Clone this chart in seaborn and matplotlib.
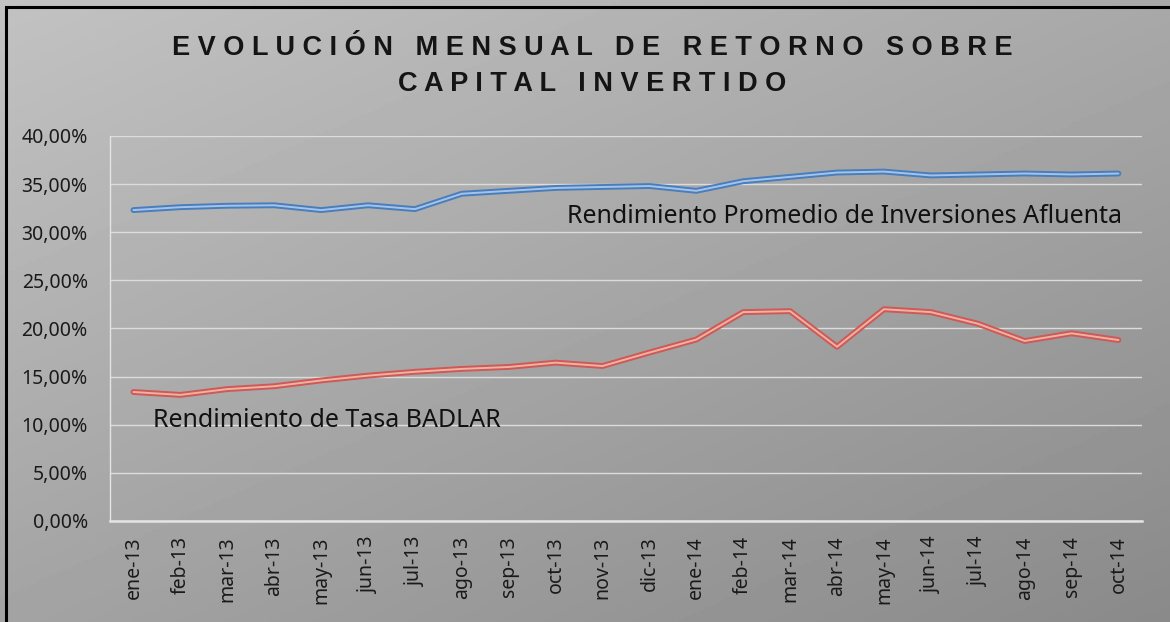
import numpy as np
import pandas as pd
import seaborn as sns
from matplotlib import pyplot as plt
from matplotlib.patches import Rectangle
from matplotlib.ticker import FuncFormatter

# Datos
meses = ['ene-13', 'feb-13', 'mar-13', 'abr-13', 'may-13', 'jun-13', 'jul-13',
         'ago-13', 'sep-13', 'oct-13', 'nov-13', 'dic-13', 'ene-14', 'feb-14',
         'mar-14', 'abr-14', 'may-14', 'jun-14', 'jul-14', 'ago-14', 'sep-14', 'oct-14']
afluenta = [32.3, 32.6, 32.75, 32.8, 32.3, 32.8, 32.4, 34.0, 34.3, 34.6, 34.7,
            34.8, 34.3, 35.3, 35.75, 36.2, 36.3, 35.9, 36.0, 36.1, 36.0, 36.1]
badlar = [13.4, 13.1, 13.7, 14.0, 14.6, 15.1, 15.5, 15.8, 16.0, 16.45, 16.1,
          17.5, 18.85, 21.7, 21.8, 18.1, 22.0, 21.7, 20.5, 18.7, 19.5, 18.8]

df = pd.DataFrame({'pos': range(len(meses)), 'mes': meses,
                   'afluenta': np.array(afluenta) / 100,
                   'badlar': np.array(badlar) / 100})

sns.set_theme(style='white')
plt.rcParams['font.family'] = ['Noto Sans', 'DejaVu Sans']

fig = plt.figure(figsize=(11.7, 6.22), dpi=100)

# fondo gris degradado
bg = fig.add_axes([0, 0, 1, 1], zorder=0)
yy, xx = np.mgrid[0:1:200j, 0:1:300j]
grad = 0.76 - 0.10 * xx - 0.12 * yy
bg.imshow(grad, cmap='gray', vmin=0, vmax=1, aspect='auto', extent=[0, 1, 0, 1])
bg.axis('off')

ax = fig.add_axes([0.094, 0.1624, 0.882, 0.619], zorder=1)
ax.set_facecolor('none')

# lineas dobles (borde oscuro + centro claro)
sns.lineplot(data=df, x='pos', y='afluenta', ax=ax, color='#4a7dbb', linewidth=4.2)
sns.lineplot(data=df, x='pos', y='afluenta', ax=ax, color='#a3c4ea', linewidth=1.4)
sns.lineplot(data=df, x='pos', y='badlar', ax=ax, color='#cf5858', linewidth=4.2)
sns.lineplot(data=df, x='pos', y='badlar', ax=ax, color='#eeb2a0', linewidth=1.4)

ax.set_xlim(-0.5, len(meses) - 0.5)
ax.set_ylim(0, 0.40)
ax.set_yticks(np.arange(0, 0.401, 0.05))
ax.yaxis.set_major_formatter(FuncFormatter(lambda v, p: f"{v*100:.2f}".replace('.', ',') + '%'))
ax.set_xticks(df['pos'])
ax.set_xticklabels(meses, rotation=90)
ax.set_xlabel('')
ax.set_ylabel('')
ax.grid(axis='y', color='#dcdcdc', linewidth=1.0)
ax.grid(axis='x', visible=False)
ax.set_axisbelow(True)
for s in ['top', 'right']:
    ax.spines[s].set_visible(False)
ax.spines['left'].set_color('#e4e4e4')
ax.spines['left'].set_linewidth(1.0)
ax.spines['bottom'].set_color('#e4e4e4')
ax.spines['bottom'].set_linewidth(1.8)
ax.tick_params(axis='y', length=0, pad=16, labelsize=14, labelcolor='#1a1a1a')
ax.tick_params(axis='x', length=0, pad=11, labelsize=14, labelcolor='#1a1a1a')

ax.text(0.443, 0.79, 'Rendimiento Promedio de Inversiones Afluenta', transform=ax.transAxes,
        fontsize=18, color='#111111', va='center', ha='left')
ax.text(0.042, 0.262, 'Rendimiento de Tasa BADLAR', transform=ax.transAxes,
        fontsize=18, color='#111111', va='center', ha='left')

def espaciar(t):
    return ' '.join(t)

fig.text(592 / 1170, 1 - 48 / 622, espaciar('EVOLUCIÓN MENSUAL DE RETORNO SOBRE'),
         ha='center', va='center', fontsize=19.5, fontweight='bold',
         family=['Liberation Sans', 'DejaVu Sans'], color='#141414')
fig.text(592 / 1170, 1 - 84 / 622, espaciar('CAPITAL INVERTIDO'),
         ha='center', va='center', fontsize=19.5, fontweight='bold',
         family=['Liberation Sans', 'DejaVu Sans'], color='#141414')

fig.patches.append(Rectangle((6 / 1170, -0.05), 1.2, 1 - 7 / 622 + 0.05,
                             transform=fig.transFigure, fill=False, ec='black', lw=2.2))

fig.savefig('out.png', dpi=100)
